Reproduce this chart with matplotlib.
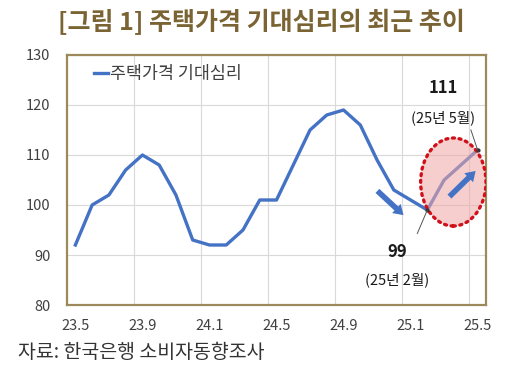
import matplotlib
matplotlib.use("Agg")
import matplotlib.pyplot as plt
from matplotlib.patches import Ellipse

plt.rcParams['font.family'] = ['Noto Sans CJK KR', 'DejaVu Sans']

# monthly, 2023.5 ~ 2025.5
months = ['23.5', '23.6', '23.7', '23.8', '23.9', '23.10', '23.11', '23.12',
          '24.1', '24.2', '24.3', '24.4', '24.5', '24.6', '24.7', '24.8',
          '24.9', '24.10', '24.11', '24.12', '25.1', '25.2', '25.3', '25.4', '25.5']
expect = [92, 100, 102, 107, 110, 108, 102, 93,
          92, 92, 95, 101, 101, 108, 115, 118,
          119, 116, 109, 103, 101, 99, 105, 108, 111]
label_every = 4

line_color = '#4472C4'
frame_color = '#9C8A5A'
title_color = '#7A6434'

fig = plt.figure(figsize=(5.09, 3.69), dpi=100)
ax = fig.add_axes([67 / 509, 1 - 305 / 369, 419 / 509, 250 / 369])

x = list(range(len(months)))
ax.plot(x, expect, color=line_color, lw=2.4, label='주택가격 기대심리', zorder=3)

ax.set_xlim(-0.5, len(months) - 0.5)
ax.set_ylim(80, 130)
ax.set_yticks(range(80, 131, 10))
ax.set_xticks(x[::label_every])
ax.set_xticklabels(months[::label_every])
ax.set_xticks([i - 0.5 for i in x[::label_every]], minor=True)
ax.tick_params(axis='both', which='both', length=0, labelsize=10.5, colors='#404040')
ax.tick_params(axis='y', pad=12)
ax.tick_params(axis='x', pad=10)
ax.grid(axis='y', color='#D9D9D9', lw=0.8)
ax.grid(axis='x', which='minor', color='#D9D9D9', lw=0.8)
ax.set_axisbelow(True)
for sp in ax.spines.values():
    sp.set_color(frame_color)
    sp.set_linewidth(1.6)

# highlight recent rebound
ell = Ellipse((22.55, 104.6), 3.9, 17.6, facecolor='#F2A7A7', alpha=0.55,
              edgecolor='none', zorder=4)
ax.add_patch(ell)
ax.add_patch(Ellipse((22.55, 104.6), 3.9, 17.6, facecolor='none',
                     edgecolor='#D0111B', lw=2.4, ls=(0, (0.6, 1.4)),
                     capstyle='round', zorder=5))

arrow = dict(arrowstyle='simple,head_length=0.7,head_width=0.9,tail_width=0.4',
             color=line_color, lw=0)
ax.annotate('', xy=(19.7, 97.6), xytext=(17.9, 103.2), arrowprops=arrow, zorder=6)
ax.annotate('', xy=(24.0, 107.2), xytext=(22.2, 101.3), arrowprops=arrow, zorder=6)

# labels for the low / latest points
i_low, i_last = 21, 24
ax.plot([i_low, i_last], [expect[i_low], expect[i_last]], 'o', ms=2,
        color='#333333', zorder=7)
ax.plot([20.4, i_low], [94.3, expect[i_low]], color='#555555', lw=0.7, zorder=7)
ax.plot([23.6, i_last], [115.0, expect[i_last]], color='#555555', lw=0.7, zorder=7)
ax.text(21.95, 123.4, str(expect[i_last]), ha='center', va='center',
        fontsize=12, fontweight='bold', color='#1a1a1a')
ax.text(21.95, 117.4, '(25년 5월)', ha='center', va='center', fontsize=10.5,
        color='#1a1a1a')
ax.text(19.2, 90.6, str(expect[i_low]), ha='center', va='center',
        fontsize=12, fontweight='bold', color='#1a1a1a')
ax.text(19.2, 85.0, '(25년 2월)', ha='center', va='center', fontsize=10.5,
        color='#1a1a1a')

ax.legend(loc='upper left', bbox_to_anchor=(0.065, 0.96), frameon=False,
          handlelength=0.8, handletextpad=0.1, borderpad=0, borderaxespad=0,
          fontsize=12.5, labelcolor='#404040')

fig.text(261 / 509, 1 - 22 / 369, '[그림 1] 주택가격 기대심리의 최근 추이',
         ha='center', va='center', fontsize=18, fontweight='bold',
         color=title_color)
fig.text(18 / 509, 1 - 352 / 369, '자료: 한국은행 소비자동향조사',
         ha='left', va='center', fontsize=14, color='#333333')

fig.savefig('out.png', dpi=100)
